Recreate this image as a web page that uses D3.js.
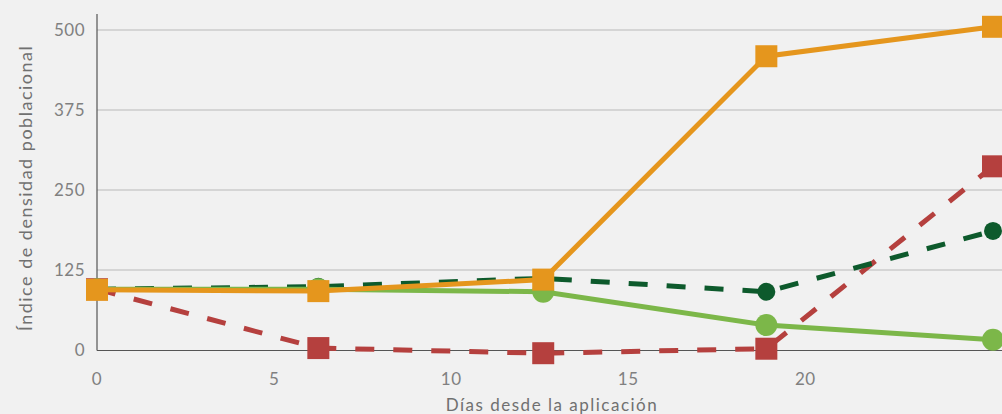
<!DOCTYPE html>
<html>
    <head>
        <script src="https://cdnjs.cloudflare.com/ajax/libs/d3/7.8.5/d3.min.js"></script>
        <style>
            html, body { margin: 0; background: #f1f1f1; }
            svg { display: block; font-family: Lato, "Open Sans", sans-serif; }
        </style>
    </head>
    <body>
        <svg width="1002" height="414" class="chart"></svg>
        <script>
            // dias desde la aplicacion
            var days = [0, 6.25, 12.6, 18.9, 25.3];
            var yTicks = [0, 125, 250, 375, 500];
            var xTicks = [0, 5, 10, 15, 20];

            var orangeVals = [94, 92, 110, 459, 505];
            var darkGreenVals = [95, 99, 112, 91, 186];
            var lightGreenVals = [95, 95, 91, 39, 16];
            var redVals = [95, 3, -5, 2, 287];

            var series = [
                {name: "red", values: redVals, color: "#b5403e", dash: "19,19", shape: "square", size: 22, width: 5},
                {name: "darkgreen", values: darkGreenVals, color: "#0d5a2c", dash: "19,19", shape: "circle", size: 9, width: 5},
                {name: "lightgreen", values: lightGreenVals, color: "#7cb749", dash: null, shape: "circle", size: 11, width: 5},
                {name: "orange", values: orangeVals, color: "#e5961d", dash: null, shape: "square", size: 22, width: 5}
            ];

            var svg = d3.select(".chart");
            var x = d3.scaleLinear().domain([0, 25.3]).range([97, 993]);
            var y = d3.scaleLinear().domain([0, 500]).range([350, 30]);

            // gridlines
            svg.append("g")
                .selectAll("line")
                .data(yTicks.slice(1))
                .enter()
                .append("line")
                .attr("x1", 97).attr("x2", 1002)
                .attr("y1", function(d){ return y(d); })
                .attr("y2", function(d){ return y(d); })
                .style("stroke", "#b9b9b9")
                .style("stroke-width", 1);

            // y tick labels
            svg.append("g")
                .selectAll("text")
                .data(yTicks)
                .enter()
                .append("text")
                .attr("x", 85)
                .attr("y", function(d){ return y(d) + 6; })
                .attr("text-anchor", "end")
                .style("font-size", "17px")
                .style("letter-spacing", "0.5px")
                .style("fill", "#808080")
                .text(function(d){ return d; });

            // x tick labels
            svg.append("g")
                .selectAll("text")
                .data(xTicks)
                .enter()
                .append("text")
                .attr("x", function(d){ return x(d); })
                .attr("y", 385)
                .attr("text-anchor", "middle")
                .style("font-size", "17px")
                .style("letter-spacing", "0.5px")
                .style("fill", "#808080")
                .text(function(d){ return d; });

            // axis lines
            svg.append("line")
                .attr("x1", 97).attr("x2", 97).attr("y1", 14).attr("y2", 350.5)
                .style("stroke", "#555").style("stroke-width", 1.2);
            svg.append("line")
                .attr("x1", 97).attr("x2", 1002).attr("y1", 350.5).attr("y2", 350.5)
                .style("stroke", "#555").style("stroke-width", 1.2);

            // titles
            svg.append("text")
                .attr("transform", "translate(32,188) rotate(-90)")
                .attr("text-anchor", "middle")
                .style("font-size", "18px")
                .style("letter-spacing", "1.5px")
                .style("fill", "#707070")
                .text("Índice de densidad poblacional");
            svg.append("text")
                .attr("x", 552).attr("y", 411)
                .attr("text-anchor", "middle")
                .style("font-size", "17px")
                .style("letter-spacing", "1.5px")
                .style("fill", "#707070")
                .text("Días desde la aplicación");

            var line = d3.line()
                .x(function(d, i){ return x(days[i]); })
                .y(function(d){ return y(d); });

            series.forEach(function(s){
                var g = svg.append("g");
                g.append("path")
                    .attr("d", line(s.values))
                    .style("fill", "none")
                    .style("stroke", s.color)
                    .style("stroke-width", s.width)
                    .style("stroke-dasharray", s.dash);
                if (s.shape === "square") {
                    g.selectAll("rect")
                        .data(s.values)
                        .enter()
                        .append("rect")
                        .attr("x", function(d, i){ return x(days[i]) - s.size / 2; })
                        .attr("y", function(d){ return y(d) - s.size / 2; })
                        .attr("width", s.size)
                        .attr("height", s.size)
                        .style("fill", s.color);
                } else {
                    g.selectAll("circle")
                        .data(s.values)
                        .enter()
                        .append("circle")
                        .attr("cx", function(d, i){ return x(days[i]); })
                        .attr("cy", function(d){ return y(d); })
                        .attr("r", s.size)
                        .style("fill", s.color);
                }
            });
        </script>
    </body>
</html>
